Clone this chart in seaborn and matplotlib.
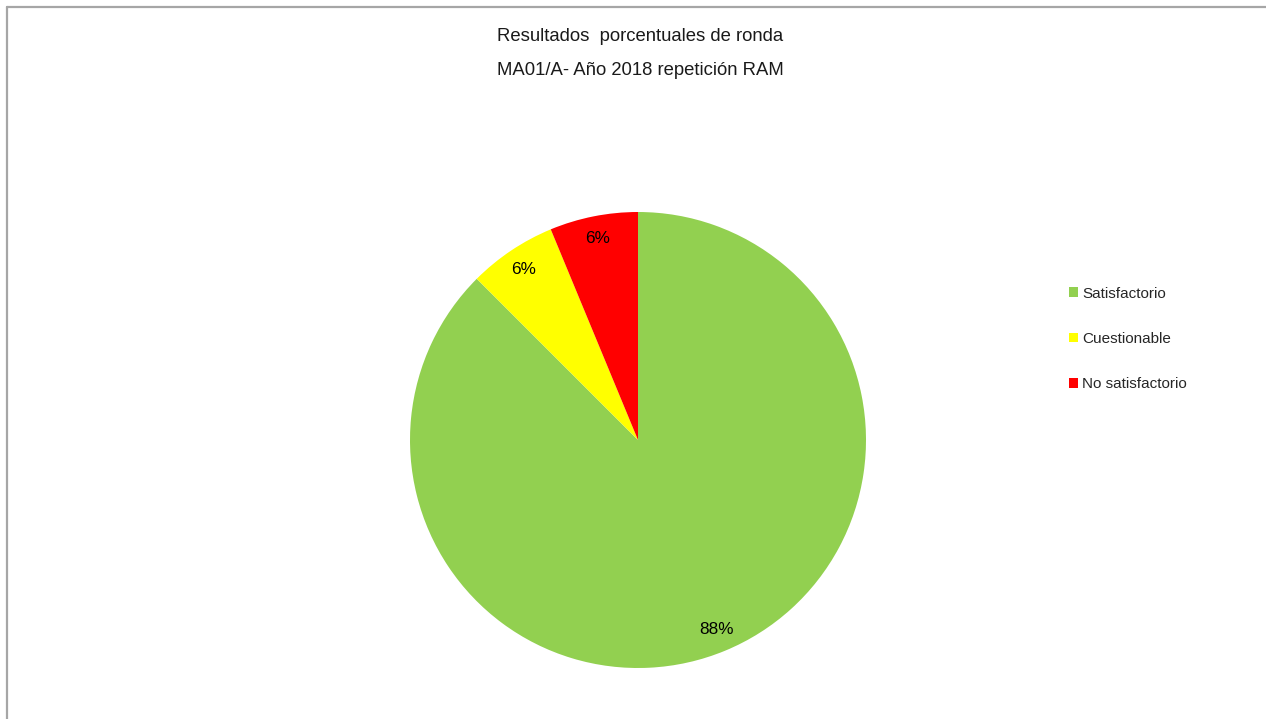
"""Pie de resultados porcentuales de ronda MA01/A - 2018 repetición RAM."""
import matplotlib
matplotlib.use("Agg")
import matplotlib.pyplot as plt
import seaborn as sns
from matplotlib.lines import Line2D

sns.set_theme(style="white")
plt.rcParams["font.family"] = ["Liberation Sans", "DejaVu Sans"]

categorias = ["Satisfactorio", "Cuestionable", "No satisfactorio"]
cantidades = [14, 1, 1]
colores = ["#92D050", "#FFFF00", "#FF0000"]
titulo = "Resultados  porcentuales de ronda\nMA01/A- Año 2018 repetición RAM"

W, H = 1266, 719
fig = plt.figure(figsize=(W / 100, H / 100), dpi=100)
fig.patch.set_facecolor("white")

# borde gris (izquierda y arriba)
fig.add_artist(Line2D([6.5 / W, 6.5 / W], [0, 1 - 6.5 / H], color="#A6A6A6", lw=1.6))
fig.add_artist(Line2D([6.5 / W, 1], [1 - 6.5 / H, 1 - 6.5 / H], color="#A6A6A6", lw=1.6))

cx, cy, r = 638, 440, 228
ax = fig.add_axes([(cx - r) / W, (H - cy - r) / H, 2 * r / W, 2 * r / H])
wedges, textos, pcts = ax.pie(
    cantidades, colors=colores, startangle=90, counterclock=False,
    autopct="%.0f%%", pctdistance=0.9, radius=1,
    wedgeprops=dict(linewidth=0), textprops=dict(fontsize=12.3, color="black"),
)
ax.set_xlim(-1, 1)
ax.set_ylim(-1, 1)
ax.set_aspect("equal")
ax.axis("off")

fig.text(640 / W, 1 - 28 / H, titulo, ha="center", va="top", fontsize=13.3,
         linespacing=2.3, color="#1a1a1a")

fig.legend(wedges, categorias, loc="center left", bbox_to_anchor=(1055 / W, 1 - 339 / H),
           frameon=False, fontsize=11, handlelength=0.6, handleheight=0.6,
           handletextpad=0.3, labelspacing=2.05)

fig.savefig("out.png", dpi=100, facecolor="white")
plt.close(fig)
